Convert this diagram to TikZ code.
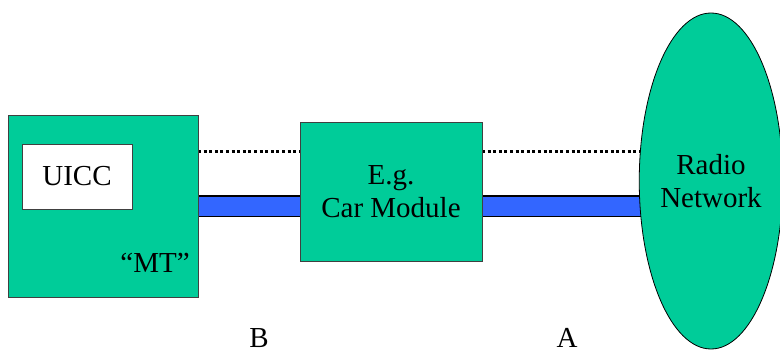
\documentclass[tikz,border=0pt]{standalone}
\usepackage{fontspec}
\setmainfont{Liberation Serif}
\usetikzlibrary{shapes.geometric}
\usetikzlibrary{positioning}
\usetikzlibrary{backgrounds}
\definecolor{boxgreen}{RGB}{0,204,153}
\definecolor{barblue}{RGB}{51,102,255}
\begin{document}
\begin{tikzpicture}
			[
				x = 1pt, y = -1pt,
				mybox/.style = {draw = black!75, fill = boxgreen, rectangle, inner sep = 0pt, outer sep = 0pt, line width = 1pt},
				mycard/.style = {draw = black!75, fill = white, rectangle, inner sep = 0pt, outer sep = 0pt, line width = 1pt},
				mycloud/.style = {draw = black, fill = boxgreen, ellipse, inner sep = 0pt, outer sep = 0pt, line width = 0.8pt},
				mytext/.style = {font = \fontsize{29}{33}\selectfont, align = center},
				mylabel/.style = {font = \fontsize{29}{33}\selectfont, inner sep = 0pt, anchor = base},
				mybar/.style = {draw = black, line width = 1.6pt, double = barblue, double distance = 19pt},
				mydots/.style = {line width = 3pt, dash pattern = on 3pt off 2.6pt}
			]
			\useasboundingbox (0,0) rectangle (780,351);
			%
			\node (mt) [mybox, minimum width = 190pt, minimum height = 182pt] at (103,206) {};
			\node (uicc) [mycard, mytext, minimum width = 110pt, minimum height = 65pt] at (77,176.5) {UICC};
			\node (mtlabel) [mylabel] at (155,272) {``MT''};
			%
			\node (car) [mybox, mytext, minimum width = 182pt, minimum height = 139pt] at (391,191.5) {E.g.\\Car Module};
			%
			\node (radio) [mycloud, mytext, minimum width = 137pt, minimum height = 336pt] at (711,181) {Radio\\Network};
			%
			\coordinate (dotrow) at (0,151);
			\begin{scope}[on background layer]
				\draw [mydots] (mt.east |- dotrow) -- (car.west |- dotrow);
				\draw [mydots] (car.east |- dotrow) -- (radio.center |- dotrow);
				\draw [mybar] (mt.east) -- (mt.east -| car.west);
				\draw [mybar] (mt.east -| car.east) -- (mt.east -| radio.center);
			\end{scope}
			%
			\node (ifb) [mylabel] at (259,347) {B};
			\node (ifa) [mylabel] at (567,347) {A};
			%
		\end{tikzpicture}
\end{document}
